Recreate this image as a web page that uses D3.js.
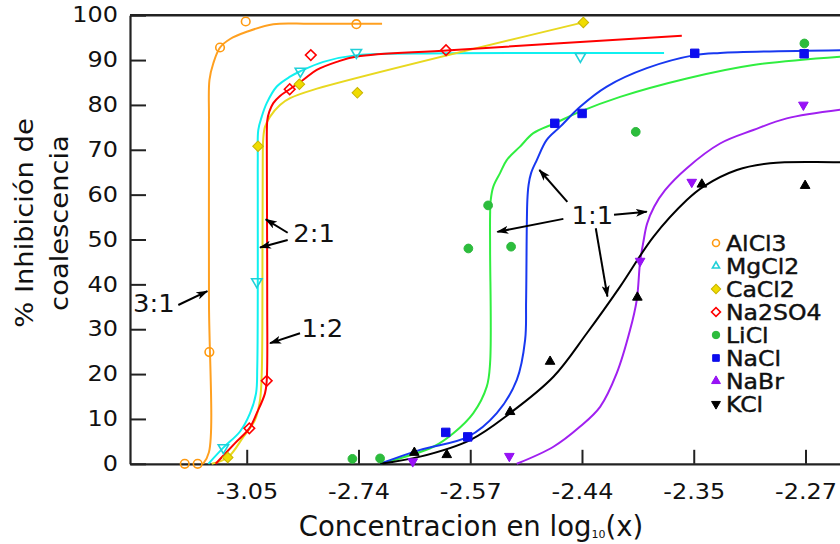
<!DOCTYPE html>
<html>
<head>
<meta charset="utf-8">
<script src="https://cdn.jsdelivr.net/npm/d3@7/dist/d3.min.js"></script>
<style>
  html, body { margin: 0; padding: 0; background: #fff; }
  svg { display: block; font-family: "DejaVu Sans", Verdana, sans-serif; }
</style>
</head>
<body>
<svg id="chart" width="840" height="544"></svg>
<script>
// Concentration in mmol/L (linear axis), labelled with log10 of mol/L.
const xTickValues = [0.9, 1.8, 2.7, 3.6, 4.5, 5.4];
const xTickLabels = ["-3.05", "-2.74", "-2.57", "-2.44", "-2.35", "-2.27"];
const yTickValues = [0, 10, 20, 30, 40, 50, 60, 70, 80, 90, 100];

// Measured points [concentration, % inhibition]
const alcl3Points = [[0.401, 0], [0.505, 0], [0.599, 24.9], [0.685, 92.8], [0.892, 98.6], [1.783, 98.0]];
const mgcl2Points = [[0.712, 3.6], [0.981, 40.6], [1.332, 87.5], [1.783, 91.7], [3.587, 90.8]];
const cacl2Points = [[0.747, 1.4], [0.991, 70.8], [1.324, 84.6], [1.791, 82.7], [3.611, 98.4]];
const na2so4Points = [[0.921, 7.9], [1.061, 18.5], [1.246, 83.5], [1.416, 91.1], [2.505, 92.2]];
const liclPoints = [[1.751, 1.1], [1.974, 1.2], [2.685, 48.0], [2.844, 57.6], [3.029, 48.4], [4.033, 74.0], [5.391, 93.7]];
const naclPoints = [[2.503, 7.0], [2.680, 6.0], [3.381, 75.9], [3.601, 78.1], [4.508, 91.5], [5.389, 91.4]];
const nabrPoints = [[2.237, 0.5], [3.015, 1.7], [4.068, 45.2], [4.484, 62.8], [5.383, 80.0]];
const kclPoints = [[2.250, 2.5], [2.511, 2.0], [3.021, 11.6], [3.343, 22.8], [4.046, 37.1], [4.565, 62.3], [5.397, 62.0]];

// Fitted response curves [concentration, % inhibition]
const alcl3Curve = [[0.548, 0], [0.596, 2.6], [0.596, 36.5], [0.596, 76.6], [0.600, 85.6], [0.631, 89.3], [0.685, 92.8],
  [0.766, 94.7], [0.900, 96.3], [1.114, 98.0], [1.410, 98.1], [1.990, 98.1]];
const mgcl2Curve = [[0.591, 0], [0.712, 3.6], [0.846, 7.2], [0.927, 11.3], [0.975, 15.7], [0.985, 21.7], [0.989, 58.8],
  [0.989, 67.7], [0.993, 74.4], [1.021, 77.4], [1.061, 80.4], [1.142, 84.1], [1.249, 86.3], [1.332, 87.5], [1.517, 89.6],
  [1.786, 91.1], [2.538, 91.5], [4.261, 91.6]];
const cacl2Curve = [[0.618, 0], [0.747, 1.4], [0.873, 6.0], [0.967, 9.8], [1.007, 14.2], [1.021, 20.2], [1.027, 47.7],
  [1.029, 67.7], [1.033, 72.5], [1.047, 75.1], [1.088, 77.4], [1.168, 80.0], [1.249, 81.5], [1.428, 83.3], [3.611, 98.4]];
const na2so4Curve = [[0.650, 0], [0.806, 4.6], [0.921, 7.9], [0.981, 11.3], [1.047, 15.7], [1.061, 18.5], [1.065, 36.5],
  [1.063, 58.8], [1.062, 70.0], [1.066, 76.6], [1.082, 78.5], [1.114, 80.4], [1.168, 82.0], [1.246, 83.5], [1.356, 85.6],
  [1.464, 87.8], [1.625, 89.6], [1.786, 90.8], [2.538, 92.2], [4.404, 95.4]];
const liclCurve = [[1.974, 0], [2.403, 3.8], [2.564, 6.8], [2.725, 11.3], [2.833, 17.2], [2.860, 22.5], [2.860, 47.7],
  [2.860, 55.5], [2.865, 58.8], [2.886, 61.8], [2.940, 64.8], [2.994, 67.7], [3.101, 70.7], [3.208, 73.7], [3.381, 75.9],
  [3.585, 78.5], [3.907, 81.8], [4.444, 85.9], [4.980, 88.9], [5.700, 90.8]];
const naclCurve = [[1.974, 0], [2.296, 3.1], [2.680, 6.0], [2.914, 11.3], [3.075, 18.7], [3.142, 27.6], [3.150, 36.5],
  [3.160, 58.8], [3.170, 62.2], [3.190, 64.8], [3.236, 67.7], [3.316, 72.2], [3.423, 75.1], [3.585, 79.6], [3.800, 84.1],
  [4.122, 88.2], [4.508, 91.1], [4.712, 91.6], [5.700, 92.2]];
const nabrCurve = [[3.075, 0], [3.370, 3.8], [3.585, 8.3], [3.746, 12.7], [3.880, 20.2], [3.987, 29.8], [4.041, 36.5],
  [4.068, 45.0], [4.094, 49.4], [4.124, 53.5], [4.181, 57.3], [4.269, 61.0], [4.444, 65.9], [4.712, 71.4], [4.980, 74.4],
  [5.249, 77.0], [5.700, 79.0]];
const kclCurve = [[1.974, 0], [2.296, 1.6], [2.699, 5.3], [3.021, 11.3], [3.370, 19.4], [3.639, 29.1], [3.907, 39.5],
  [4.175, 50.6], [4.444, 58.8], [4.578, 61.8], [4.847, 65.5], [5.115, 67.0], [5.464, 67.3], [5.700, 67.2]];

// Ratio labels and their arrows [concentration, % inhibition]
const ratioLabels = ["3:1", "2:1", "1:2", "1:1"];
const ratioLabelAt = [[0.153, 33.8], [1.442, 49.4], [1.509, 28.3], [3.683, 53.4]];
const ratioArrows = [
  [[0.349, 35.4], [0.583, 38.5]],
  [[1.230, 51.5], [1.053, 54.5]],
  [[1.230, 49.9], [1.007, 48.2]],
  [[1.329, 29.1], [1.088, 26.9]],
  [[3.482, 58.4], [3.257, 65.5]],
  [[3.450, 54.6], [2.918, 51.7]],
  [[3.858, 55.5], [4.122, 56.2]],
  [[3.711, 52.5], [3.805, 37.3]]
];

const legendNames = ["AlCl3", "MgCl2", "CaCl2", "Na2SO4", "LiCl", "NaCl", "NaBr", "KCl"];

const series = [
  { name: "AlCl3", points: alcl3Points, curve: alcl3Curve },
  { name: "MgCl2", points: mgcl2Points, curve: mgcl2Curve },
  { name: "CaCl2", points: cacl2Points, curve: cacl2Curve },
  { name: "Na2SO4", points: na2so4Points, curve: na2so4Curve },
  { name: "LiCl", points: liclPoints, curve: liclCurve },
  { name: "NaCl", points: naclPoints, curve: naclCurve },
  { name: "NaBr", points: nabrPoints, curve: nabrCurve },
  { name: "KCl", points: kclPoints, curve: kclCurve }
];

// Drawing styles per salt: plot symbol, legend symbol, colours
const styles = {
  AlCl3:  { line: "#ffa020", stroke: "#ff9a10", fill: "none",    sym: d3.symbolCircle,   size: 58, rot: 0,   leg: d3.symbolCircle,   legSize: 38, legRot: 0 },
  MgCl2:  { line: "#10f0f0", stroke: "#20d0d8", fill: "none",    sym: d3.symbolTriangle, size: 46, rot: 180, leg: d3.symbolTriangle, legSize: 22, legRot: 0 },
  CaCl2:  { line: "#e8d820", stroke: "#c8b400", fill: "#f0dc00", sym: d3.symbolSquare,   size: 56, rot: 45,  leg: d3.symbolSquare,   legSize: 44, legRot: 45 },
  Na2SO4: { line: "#ff0000", stroke: "#ff0000", fill: "none",    sym: d3.symbolSquare,   size: 56, rot: 45,  leg: d3.symbolSquare,   legSize: 40, legRot: 45 },
  LiCl:   { line: "#30ee40", stroke: "#2cb83c", fill: "#2cbd3c", sym: d3.symbolCircle,   size: 60, rot: 0,   leg: d3.symbolCircle,   legSize: 44, legRot: 0 },
  NaCl:   { line: "#1838f0", stroke: "#1010e8", fill: "#0c0cf0", sym: d3.symbolSquare,   size: 72, rot: 0,   leg: d3.symbolSquare,   legSize: 44, legRot: 0 },
  NaBr:   { line: "#a020f0", stroke: "#9010f0", fill: "#9a10f8", sym: d3.symbolTriangle, size: 40, rot: 180, leg: d3.symbolTriangle, legSize: 34, legRot: 0 },
  KCl:    { line: "#000000", stroke: "#000000", fill: "#000000", sym: d3.symbolTriangle, size: 40, rot: 0,   leg: d3.symbolTriangle, legSize: 34, legRot: 180 }
};

const svg = d3.select("#chart");
const W = 840, H = 544;
const plotLeft = 130, plotTop = 15.2, plotBottom = 463.8;

const x = d3.scaleLinear().domain([-0.04, 6.0]).range([plotLeft, 880]);
const y = d3.scaleLinear().domain([0, 100]).range([plotBottom, plotTop]);

const axisColor = "#222";
const stretch = 1.14;   // wide lettering used for all chart text

// Left axis with inward ticks
const yAxis = svg.append("g")
  .attr("transform", `translate(${plotLeft},0)`)
  .call(d3.axisLeft(y).tickValues(yTickValues).tickSize(-16).tickSizeOuter(0).tickPadding(12));
yAxis.select(".domain").attr("stroke", axisColor).attr("stroke-width", 2.2);
yAxis.selectAll(".tick line").attr("stroke", axisColor).attr("stroke-width", 2);
yAxis.selectAll(".tick text")
  .attr("fill", "#111").attr("font-size", 21).attr("font-family", "DejaVu Sans")
  .attr("x", -12 / stretch)
  .attr("transform", `scale(${stretch},1)`);

// Bottom axis with inward ticks
const xAxis = svg.append("g")
  .attr("transform", `translate(0,${plotBottom})`)
  .call(d3.axisBottom(x).tickValues(xTickValues).tickFormat((d, i) => xTickLabels[i])
    .tickSize(-14).tickSizeOuter(0).tickPadding(20));
xAxis.select(".domain").attr("stroke", axisColor).attr("stroke-width", 2.2);
xAxis.selectAll(".tick line").attr("stroke", axisColor).attr("stroke-width", 2);
xAxis.selectAll(".tick text")
  .attr("fill", "#111").attr("font-size", 21).attr("font-family", "DejaVu Sans")
  .attr("transform", `scale(${stretch},1)`);

// Top frame line
svg.append("line")
  .attr("x1", plotLeft).attr("x2", W)
  .attr("y1", plotTop).attr("y2", plotTop)
  .attr("stroke", axisColor).attr("stroke-width", 2.6);

// Response curves
const line = d3.line()
  .x(d => x(d[0])).y(d => y(d[1]))
  .curve(d3.curveCatmullRom.alpha(0.5));

const curves = svg.append("g").attr("fill", "none");
series.forEach(s => {
  curves.append("path")
    .attr("d", line(s.curve))
    .attr("stroke", styles[s.name].line)
    .attr("stroke-width", 2);
});

// Measured points
const marks = svg.append("g");
series.forEach(s => {
  const st = styles[s.name];
  const sym = d3.symbol().type(st.sym).size(st.size);
  marks.selectAll(null)
    .data(s.points)
    .join("path")
    .attr("d", sym)
    .attr("transform", d => `translate(${x(d[0])},${y(d[1])}) rotate(${st.rot})`)
    .attr("fill", st.fill === "none" ? "none" : st.fill)
    .attr("stroke", st.stroke)
    .attr("stroke-width", st.fill === "none" ? 1.6 : 1);
});

// Ratio annotations
svg.append("defs").append("marker")
  .attr("id", "head")
  .attr("viewBox", "0 0 12 8")
  .attr("refX", 11).attr("refY", 4)
  .attr("markerWidth", 12).attr("markerHeight", 8)
  .attr("markerUnits", "userSpaceOnUse")
  .attr("orient", "auto")
  .append("path")
  .attr("d", "M0,0 L12,4 L0,8 L3,4 Z")
  .attr("fill", "#000");

const notes = svg.append("g");
notes.selectAll("line")
  .data(ratioArrows)
  .join("line")
  .attr("x1", d => x(d[0][0])).attr("y1", d => y(d[0][1]))
  .attr("x2", d => x(d[1][0])).attr("y2", d => y(d[1][1]))
  .attr("stroke", "#000").attr("stroke-width", 2)
  .attr("marker-end", "url(#head)");
notes.selectAll("text")
  .data(ratioLabels)
  .join("text")
  .attr("transform", (d, i) => `translate(${x(ratioLabelAt[i][0])},${y(ratioLabelAt[i][1])}) scale(1.08,1)`)
  .attr("text-anchor", "middle")
  .attr("font-size", 24)
  .attr("fill", "#111")
  .text(d => d);

// Legend
const legend = svg.append("g").attr("transform", "translate(716,243)");
legendNames.forEach((name, i) => {
  const st = styles[name];
  const row = legend.append("g").attr("transform", `translate(0,${i * 23})`);
  row.append("path")
    .attr("d", d3.symbol().type(st.leg).size(st.legSize))
    .attr("transform", `rotate(${st.legRot})`)
    .attr("fill", st.fill === "none" ? "#fff" : st.fill)
    .attr("stroke", st.stroke)
    .attr("stroke-width", st.fill === "none" ? 1.6 : 1);
  row.append("text")
    .attr("transform", "translate(10,8) scale(1.07,1)")
    .attr("font-size", 22)
    .attr("fill", "#111")
    .attr("stroke", "#111")
    .attr("stroke-width", 0.45)
    .text(name);
});

// Axis titles
const yTitle = svg.append("text")
  .attr("transform", `translate(0,223) rotate(-90) scale(${stretch},1)`)
  .attr("text-anchor", "middle")
  .attr("font-size", 24)
  .attr("fill", "#111");
yTitle.append("tspan").attr("x", 0).attr("y", 33).text("% Inhibición de");
yTitle.append("tspan").attr("x", 0).attr("y", 68).text("coalescencia");

const xTitle = svg.append("text")
  .attr("x", 471).attr("y", 536)
  .attr("text-anchor", "middle")
  .attr("font-size", 27.5)
  .attr("fill", "#111");
xTitle.append("tspan").text("Concentracion en log");
xTitle.append("tspan").attr("font-size", 11).attr("dy", 2).text("10");
xTitle.append("tspan").attr("dy", -2).text("(x)");
</script>
</body>
</html>
